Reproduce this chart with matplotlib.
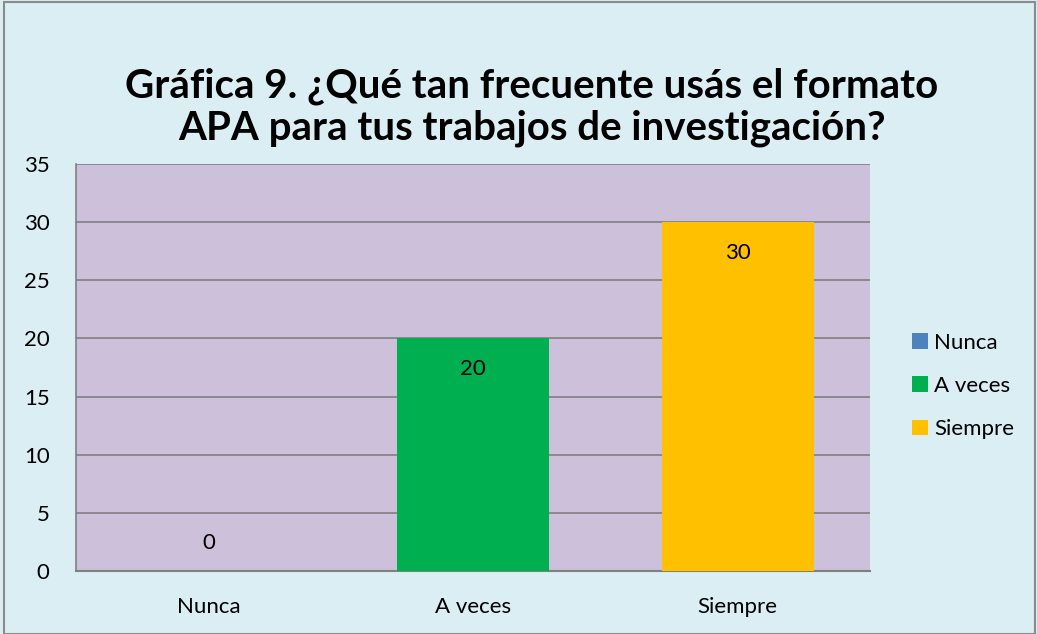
import matplotlib
matplotlib.use('Agg')
import matplotlib.pyplot as plt
from matplotlib.patches import Rectangle, Patch

categories = ['Nunca', 'A veces', 'Siempre']
values = [0, 20, 30]
colors = ['#4F81BD', '#00B050', '#FFC000']
y_ticks = [0, 5, 10, 15, 20, 25, 30, 35]
title = 'Gráfica 9. ¿Qué tan frecuente usás el formato\nAPA para tus trabajos de investigación?'

plt.rcParams['font.family'] = ['Lato', 'DejaVu Sans']

W, H = 1037, 634
fig = plt.figure(figsize=(W / 100, H / 100), dpi=100)
fig.patch.set_facecolor('#DAEEF3')
fig.patches.append(Rectangle((4 / W, 0.5 / H), (W - 6) / W, (H - 2) / H,
                             transform=fig.transFigure, fill=False,
                             edgecolor='#8C8C8C', linewidth=1.5))

# plot area in pixels: x 76..870, y 164..571
ax = fig.add_axes([76 / W, (H - 571) / H, (870 - 76) / W, (571 - 164) / H])
ax.set_facecolor('#CCC0DA')

x = range(len(categories))
bars = ax.bar(x, values, width=0.575, color=colors, zorder=3)
ax.set_xlim(-0.5, len(categories) - 0.5)
ax.set_ylim(0, 35)
ax.set_yticks(y_ticks)
ax.set_xticks(list(x))
ax.set_xticklabels(categories)
ax.yaxis.grid(True, color='#808080', linewidth=1.2, zorder=1)
ax.tick_params(axis='both', length=0, labelsize=16, colors='#000000')
ax.tick_params(axis='y', pad=19)
ax.tick_params(axis='x', pad=19)
for side in ['top', 'right']:
    ax.spines[side].set_visible(False)
ax.spines['left'].set_color('#808080')
ax.spines['bottom'].set_color('#808080')
ax.spines['left'].set_linewidth(1.2)
ax.spines['bottom'].set_linewidth(1.5)

for b, v in zip(bars, values):
    if v > 0:
        ax.annotate(str(v), (b.get_x() + b.get_width() / 2, v), xytext=(0, -22),
                    textcoords='offset points', ha='center', va='center', fontsize=16)
    else:
        ax.annotate(str(v), (b.get_x() + b.get_width() / 2, v), xytext=(0, 20),
                    textcoords='offset points', ha='center', va='center', fontsize=16)

fig.text(532 / W, 1 - 107 / H, title, ha='center', va='center', fontsize=29,
         fontweight='bold', linespacing=1.15)

handles = [Patch(facecolor=c, edgecolor='none') for c in colors]
fig.legend(handles, categories, loc='center left', bbox_to_anchor=(892 / W, 1 - 386 / H),
           frameon=False, fontsize=16, handlelength=0.7, handleheight=0.7,
           handletextpad=0.3, labelspacing=1.05)

fig.savefig('out.png', dpi=100, facecolor=fig.get_facecolor())
